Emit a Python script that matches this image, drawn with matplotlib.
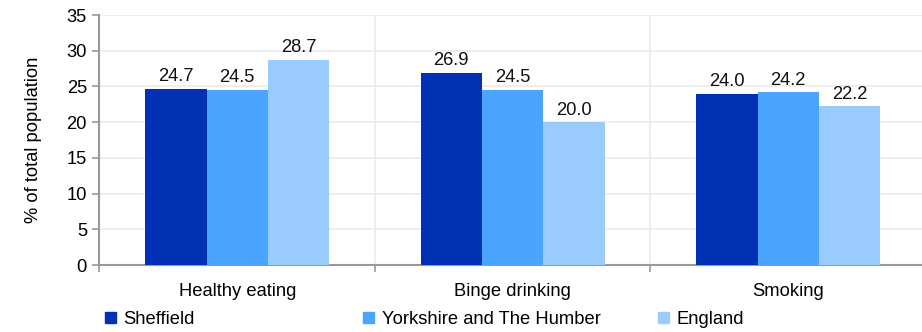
import matplotlib
matplotlib.use("Agg")
import matplotlib.pyplot as plt
import numpy as np
from matplotlib.patches import Patch

plt.rcParams['font.family'] = ['Liberation Sans', 'DejaVu Sans']

categories = ['Healthy eating', 'Binge drinking', 'Smoking']
series_names = ['Sheffield', 'Yorkshire and The Humber', 'England']
sheffield = [24.7, 26.9, 24.0]
yorkshire = [24.5, 24.5, 24.2]
england = [28.7, 20.0, 22.2]
colors = ['#0131B4', '#4BA5FF', '#99CBFF']

FS = 13.2

fig = plt.figure(figsize=(9.22, 3.32), dpi=100)
ax = fig.add_axes([0.1079, 0.2018, 0.8964, 0.753])

x = np.arange(len(categories))
w = 0.223
for i, vals in enumerate([sheffield, yorkshire, england]):
    pos = x + (i - 1) * w
    ax.bar(pos, vals, width=w, color=colors[i], zorder=3)
    for p, v in zip(pos, vals):
        ax.text(p, v + 0.5, f'{v:.1f}', ha='center', va='bottom', fontsize=FS, color='#111111', zorder=4)

ax.set_xlim(-0.5, 2.5)
ax.set_ylim(0, 35)
ax.set_yticks(range(0, 36, 5))
ax.set_xticks([-0.5, 0.5, 1.5, 2.5])
ax.set_xticklabels([])
ax.set_xticks(x, minor=True)
ax.set_xticklabels(categories, minor=True, fontsize=FS)
ax.tick_params(axis='x', which='minor', length=0, pad=13)
ax.tick_params(axis='x', which='major', length=5, color='#999999', width=1.2)
ax.tick_params(axis='y', length=5, color='#999999', width=1.2, labelsize=FS, pad=4)

ax.grid(axis='y', color='#ebebeb', linewidth=1.2, zorder=0)
ax.grid(axis='x', which='major', color='#ebebeb', linewidth=1.2, zorder=0)
for s in ['top', 'right']:
    ax.spines[s].set_visible(False)
for s in ['left', 'bottom']:
    ax.spines[s].set_color('#999999')
    ax.spines[s].set_linewidth(1.5)

ax.set_ylabel('% of total population', fontsize=FS, labelpad=18)

legend_x = [0.114, 0.394, 0.714]
for name, c, lx in zip(series_names, colors, legend_x):
    fig.legend(handles=[Patch(color=c, label=name)], loc='center left',
               bbox_to_anchor=(lx, 0.038), frameon=False, fontsize=FS,
               handlelength=0.6, handleheight=0.6, handletextpad=0.4,
               borderaxespad=0, borderpad=0)

fig.savefig('out.png', dpi=100)
